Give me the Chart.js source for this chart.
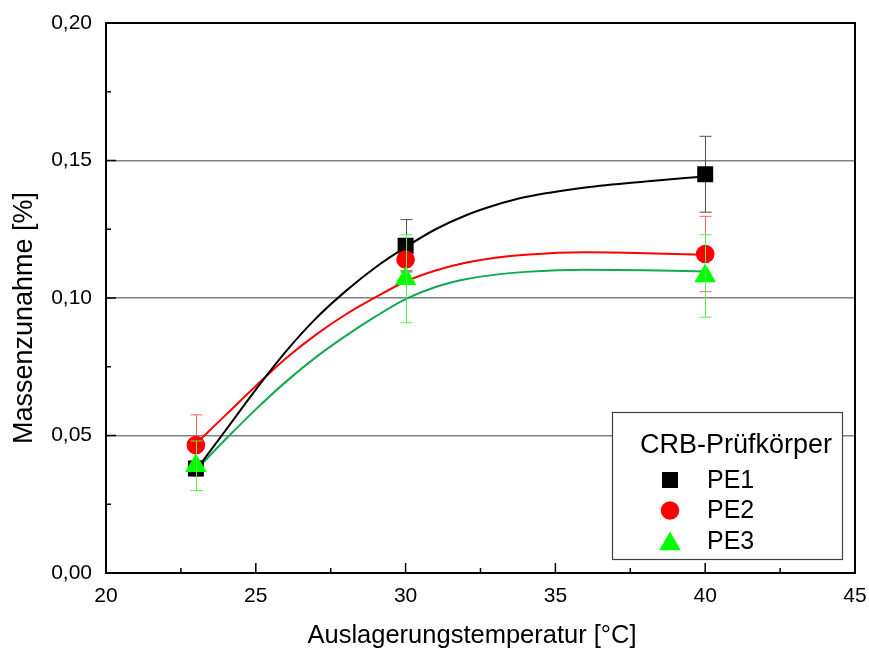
<!DOCTYPE html>
<html lang="de">
<head>
    <meta charset="UTF-8">
    <title>Massenzunahme - CRB-Prüfkörper</title>
    <style>
        html, body {
            margin: 0;
            padding: 0;
            background: #ffffff;
        }
        #wrap {
            width: 869px;
            height: 651px;
        }
    </style>
</head>
<body>
    <div id="wrap">
        <canvas id="massChart" width="869" height="651"></canvas>
    </div>

    <script src="https://cdn.jsdelivr.net/npm/chart.js@4"></script>
    <script>
        // Messpunkte (Auslagerungstemperatur in °C)
        const temps = [23, 30, 40];
        const pe1Values = [0.038, 0.119, 0.145];
        const pe1Errors = [0.0027, 0.0095, 0.0138];
        const pe2Values = [0.0465, 0.114, 0.116];
        const pe2Errors = [0.011, 0.004, 0.0137];
        const pe3Values = [0.039, 0.107, 0.108];
        const pe3Errors = [0.009, 0.016, 0.015];

        // Fitkurven
        const fitTemps = [23, 24, 25, 26, 27, 28, 29, 30, 31, 32, 33, 34, 36, 38, 40];
        const pe1Fit = [0.0374, 0.0520, 0.0667, 0.0805, 0.0925, 0.1025, 0.1112, 0.1185, 0.1250, 0.1300, 0.1338, 0.1367, 0.1402, 0.1424, 0.1442];
        const pe2Fit = [0.0470, 0.0575, 0.0680, 0.0780, 0.0866, 0.0940, 0.1003, 0.1060, 0.1100, 0.1128, 0.1146, 0.1157, 0.1166, 0.1163, 0.1157];
        const pe3Fit = [0.0374, 0.0487, 0.0595, 0.0695, 0.0784, 0.0862, 0.0933, 0.0996, 0.1040, 0.1068, 0.1085, 0.1095, 0.1103, 0.1101, 0.1096];

        // Achsen
        const xMajorTicks = [20, 25, 30, 35, 40, 45];
        const xMinorTicks = [22.5, 27.5, 32.5, 37.5, 42.5];
        const yMajorTicks = [0, 0.05, 0.10, 0.15, 0.20];
        const yMinorTicks = [0.025, 0.075, 0.125, 0.175];

        const xTitle = 'Auslagerungstemperatur [°C]';
        const yTitle = 'Massenzunahme [%]';
        const legendTitle = 'CRB-Prüfkörper';

        const series = [
            { label: 'PE1', values: pe1Values, errors: pe1Errors, fit: pe1Fit,
              color: '#000000', errColor: '#505050', fitColor: '#000000', style: 'rect', radius: 11.3 },
            { label: 'PE2', values: pe2Values, errors: pe2Errors, fit: pe2Fit,
              color: '#ff0000', errColor: '#ff6060', fitColor: '#ff0000', style: 'circle', radius: 9.3 },
            { label: 'PE3', values: pe3Values, errors: pe3Errors, fit: pe3Fit,
              color: '#00ff00', errColor: '#55ee55', fitColor: '#13a850', style: 'triangle', radius: 12.5 }
        ];

        const FONT = '"Liberation Sans", Arial, sans-serif';
        Chart.defaults.font.family = FONT;
        Chart.defaults.color = '#000000';

        function drawErrorBars(chart, idx) {
            const s = series[idx];
            const ctx = chart.ctx;
            const xs = chart.scales.x;
            const ys = chart.scales.y;
            ctx.save();
            ctx.strokeStyle = s.errColor;
            ctx.lineWidth = 1;
            temps.forEach((t, i) => {
                const px = Math.round(xs.getPixelForValue(t)) + 0.5;
                const top = ys.getPixelForValue(s.values[i] + s.errors[i]);
                const bot = ys.getPixelForValue(s.values[i] - s.errors[i]);
                ctx.beginPath();
                ctx.moveTo(px, top);
                ctx.lineTo(px, bot);
                ctx.moveTo(px - 6, top);
                ctx.lineTo(px + 6, top);
                ctx.moveTo(px - 6, bot);
                ctx.lineTo(px + 6, bot);
                ctx.stroke();
            });
            ctx.restore();
        }

        function drawFrame(chart) {
            const ctx = chart.ctx;
            const a = chart.chartArea;
            const xs = chart.scales.x;
            const ys = chart.scales.y;
            ctx.save();
            ctx.strokeStyle = '#000000';
            ctx.lineWidth = 1.5;
            // Ticks nach innen
            ctx.beginPath();
            xMajorTicks.forEach(v => {
                const px = xs.getPixelForValue(v);
                ctx.moveTo(px, a.bottom);
                ctx.lineTo(px, a.bottom - 10);
            });
            xMinorTicks.forEach(v => {
                const px = xs.getPixelForValue(v);
                ctx.moveTo(px, a.bottom);
                ctx.lineTo(px, a.bottom - 5);
            });
            yMajorTicks.forEach(v => {
                const py = ys.getPixelForValue(v);
                ctx.moveTo(a.left, py);
                ctx.lineTo(a.left + 10, py);
            });
            yMinorTicks.forEach(v => {
                const py = ys.getPixelForValue(v);
                ctx.moveTo(a.left, py);
                ctx.lineTo(a.left + 5, py);
            });
            ctx.stroke();
            ctx.lineWidth = 2;
            ctx.strokeRect(a.left, a.top, a.right - a.left, a.bottom - a.top);
            ctx.restore();
        }

        function drawTitles(chart) {
            const ctx = chart.ctx;
            ctx.save();
            ctx.fillStyle = '#000000';
            ctx.textAlign = 'center';
            ctx.textBaseline = 'middle';
            ctx.font = '25.5px ' + FONT;
            ctx.fillText(xTitle, 472, 636);
            ctx.translate(25, 318);
            ctx.rotate(-Math.PI / 2);
            ctx.font = '27px ' + FONT;
            ctx.fillText(yTitle, 0, 0);
            ctx.restore();
        }

        function drawLegend(chart) {
            const ctx = chart.ctx;
            const a = chart.chartArea;
            const w = 230, h = 147;
            const left = a.right - 13 - w;
            const top = a.bottom - 14 - h;
            ctx.save();
            ctx.fillStyle = '#ffffff';
            ctx.fillRect(left, top, w, h);
            ctx.strokeStyle = '#404040';
            ctx.lineWidth = 1.2;
            ctx.strokeRect(left + 0.5, top + 0.5, w, h);

            ctx.fillStyle = '#000000';
            ctx.textBaseline = 'middle';
            ctx.textAlign = 'left';
            ctx.font = '27px ' + FONT;
            ctx.fillText(legendTitle, left + 28, top + 34);

            ctx.font = '25px ' + FONT;
            series.forEach((s, i) => {
                const cy = top + 68 + i * 30.5;
                ctx.fillStyle = s.color;
                const my = s.style === 'triangle' ? cy + 3 : cy;
                Chart.helpers.drawPoint(ctx, {
                    pointStyle: s.style, radius: s.radius, rotation: 0, borderWidth: 0
                }, left + 58, my);
                ctx.fillStyle = '#000000';
                ctx.fillText(s.label, left + 95, cy + 1);
            });
            ctx.restore();
        }

        const decorPlugin = {
            id: 'decor',
            beforeDatasetsDraw(chart) {
                drawErrorBars(chart, 0);
                drawErrorBars(chart, 1);
            },
            afterDatasetsDraw(chart) {
                drawErrorBars(chart, 2);
                drawFrame(chart);
                drawLegend(chart);
            },
            afterDraw(chart) {
                drawTitles(chart);
            }
        };

        const datasets = [];
        series.forEach((s, i) => {
            datasets.push({
                type: 'line',
                label: s.label + ' Fit',
                data: fitTemps.map((t, k) => ({ x: t, y: s.fit[k] })),
                borderColor: s.fitColor,
                borderWidth: 2,
                pointRadius: 0,
                showLine: true,
                fill: false,
                cubicInterpolationMode: 'monotone',
                order: 10 + i
            });
            datasets.push({
                type: 'scatter',
                label: s.label,
                data: temps.map((t, k) => ({ x: t, y: s.values[k] })),
                backgroundColor: s.color,
                borderWidth: 0,
                pointStyle: s.style,
                pointRadius: s.radius,
                pointBorderWidth: 0,
                order: 3 - i
            });
        });

        const ctx = document.getElementById('massChart').getContext('2d');
        new Chart(ctx, {
            type: 'scatter',
            data: { datasets: datasets },
            plugins: [decorPlugin],
            options: {
                responsive: false,
                animation: false,
                layout: { padding: { top: 23, right: 14, left: 0, bottom: 0 } },
                plugins: {
                    legend: { display: false },
                    tooltip: { enabled: false }
                },
                scales: {
                    x: {
                        type: 'linear',
                        min: 20,
                        max: 45,
                        afterFit(s) {
                            s.height = 78;
                            s.paddingLeft = 0;
                            s.paddingRight = 0;
                        },
                        grid: { display: false, drawTicks: false },
                        border: { display: false },
                        ticks: {
                            stepSize: 5,
                            padding: 11,
                            font: { size: 21 },
                            color: '#000000',
                            callback: v => String(v)
                        }
                    },
                    y: {
                        type: 'linear',
                        min: 0,
                        max: 0.2,
                        afterFit(s) {
                            s.width = 106;
                            s.paddingTop = 0;
                            s.paddingBottom = 0;
                        },
                        grid: {
                            drawTicks: false,
                            lineWidth: 1.5,
                            color: c => (c.tick && c.tick.value > 0.001 && c.tick.value < 0.199) ? '#808080' : 'rgba(0,0,0,0)'
                        },
                        border: { display: false },
                        ticks: {
                            stepSize: 0.05,
                            padding: 14,
                            font: { size: 21 },
                            color: '#000000',
                            callback: v => v.toFixed(2).replace('.', ',')
                        }
                    }
                }
            }
        });
    </script>
</body>
</html>
